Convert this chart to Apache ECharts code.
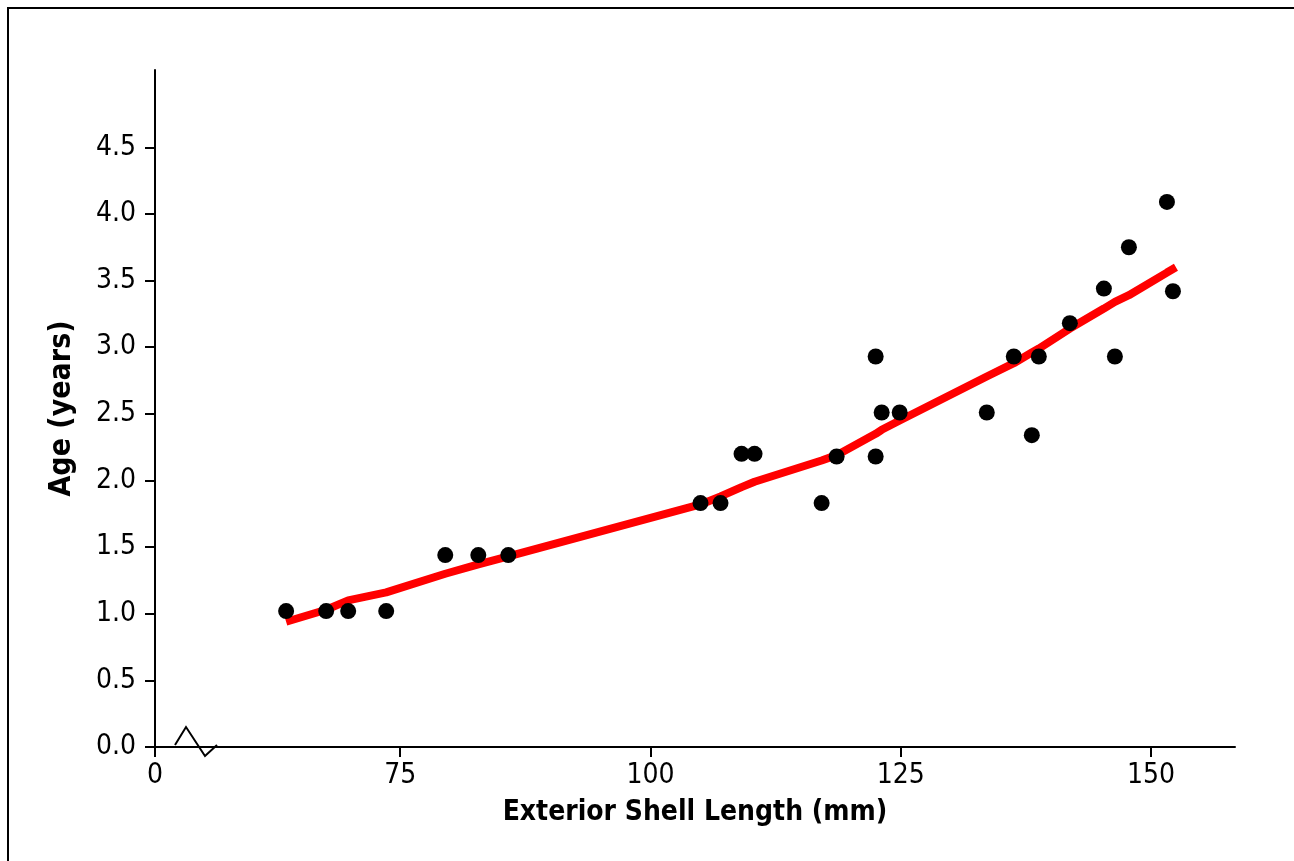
<!DOCTYPE html>
<html>
<head>
<meta charset="utf-8">
<script src="https://cdn.jsdelivr.net/npm/echarts@6/dist/echarts.min.js"></script>
<style>
html,body{margin:0;padding:0;background:#fff;}
#chart{width:1294px;height:861px;}
</style>
</head>
<body>
<div id="chart"></div>
<script>
// Observed shells: exterior length (mm) and age (years)
const shellLength = [63.6, 67.6, 69.8, 73.6, 79.5, 82.8, 85.8, 105.0, 107.0, 109.1, 110.4, 117.1, 118.6, 122.5, 122.5, 123.1, 124.9, 133.6, 136.3, 138.1, 138.8, 141.9, 145.3, 146.4, 147.8, 151.6, 152.2];
const shellAge    = [1.02, 1.02, 1.02, 1.02, 1.44, 1.44, 1.44, 1.83, 1.83, 2.20, 2.20, 1.83, 2.18, 2.93, 2.18, 2.51, 2.51, 2.51, 2.93, 2.34, 2.93, 3.18, 3.44, 2.93, 3.75, 4.09, 3.42];
// Fitted curve (red), read at the data lengths
const fitLength = [63.6, 67.6, 69.8, 73.6, 79.5, 82.8, 85.8, 105.0, 107.0, 109.1, 110.4, 117.1, 118.6, 122.5, 123.1, 124.9, 133.6, 136.3, 138.1, 138.8, 141.9, 145.3, 146.4, 147.8, 151.6, 152.5];
const fitAge    = [0.94, 1.03, 1.10, 1.16, 1.30, 1.37, 1.43, 1.82, 1.88, 1.95, 1.99, 2.15, 2.19, 2.35, 2.38, 2.45, 2.78, 2.88, 2.96, 2.99, 3.14, 3.29, 3.34, 3.39, 3.56, 3.60];
// Axis ticks
const xTickValues = [75, 100, 125, 150];
const xAxisStart = 50.5;       // broken axis: start shown as "0"
const xAxisStartLabel = '0';
const xAxisEnd = 158.4;
const yTickValues = [0, 0.5, 1.0, 1.5, 2.0, 2.5, 3.0, 3.5, 4.0, 4.5];
const yAxisEnd = 5.08;
const xTitle = 'Exterior Shell Length (mm)';
const yTitle = 'Age (years)';

const FONT = "'DejaVu Sans Condensed', 'Liberation Sans', sans-serif";
const chart = echarts.init(document.getElementById('chart'), null, {renderer: 'canvas'});

const pts = shellLength.map((x, i) => [x, shellAge[i]]);
const fit = fitLength.map((x, i) => [x, fitAge[i]]);
const xTicks = [xAxisStart].concat(xTickValues);

const axisLineStyle = {color: '#000', width: 2};

chart.setOption({
  animation: false,
  backgroundColor: '#fff',
  grid: {left: 155, right: 59, top: 70, bottom: 114, containLabel: false},
  xAxis: {
    type: 'value',
    min: xAxisStart,
    max: xAxisEnd,
    splitLine: {show: false},
    axisLine: {show: true, lineStyle: axisLineStyle, onZero: false},
    axisTick: {show: true, length: 10, inside: false, lineStyle: axisLineStyle, customValues: xTicks},
    axisLabel: {
      customValues: xTicks,
      formatter: v => (v === xAxisStart ? xAxisStartLabel : String(v)),
      color: '#000', fontFamily: FONT, fontSize: 28, margin: 15
    },
    name: xTitle,
    nameLocation: 'middle',
    nameGap: 52,
    nameTextStyle: {color: '#000', fontFamily: FONT, fontSize: 28, fontWeight: 'bold'}
  },
  yAxis: {
    type: 'value',
    min: 0,
    max: yAxisEnd,
    splitLine: {show: false},
    axisLine: {show: true, lineStyle: axisLineStyle, onZero: false},
    axisTick: {show: true, length: 10, lineStyle: axisLineStyle, customValues: yTickValues},
    axisLabel: {
      customValues: yTickValues,
      formatter: v => v.toFixed(1),
      color: '#000', fontFamily: FONT, fontSize: 28, margin: 19
    },
    name: yTitle,
    nameLocation: 'middle',
    nameGap: 78,
    nameRotate: 90,
    nameTextStyle: {color: '#000', fontFamily: FONT, fontSize: 30, fontWeight: 'bold'}
  },
  series: [
    {
      type: 'line',
      data: fit,
      symbol: 'none',
      lineStyle: {color: '#ff0000', width: 8},
      z: 2
    },
    {
      type: 'scatter',
      data: pts,
      symbol: 'circle',
      symbolSize: 16,
      itemStyle: {color: '#000', opacity: 1},
      z: 3
    }
  ],
  graphic: [
    {
      type: 'rect',
      shape: {x: 8, y: 8, width: 1400, height: 1000},
      style: {fill: 'none', stroke: '#000', lineWidth: 2},
      silent: true
    },
    {
      type: 'polyline',
      shape: {points: [[175, 745], [186, 727], [205, 756], [217, 745]]},
      style: {fill: 'none', stroke: '#000', lineWidth: 2},
      z: 10,
      silent: true
    }
  ]
});
</script>
</body>
</html>
